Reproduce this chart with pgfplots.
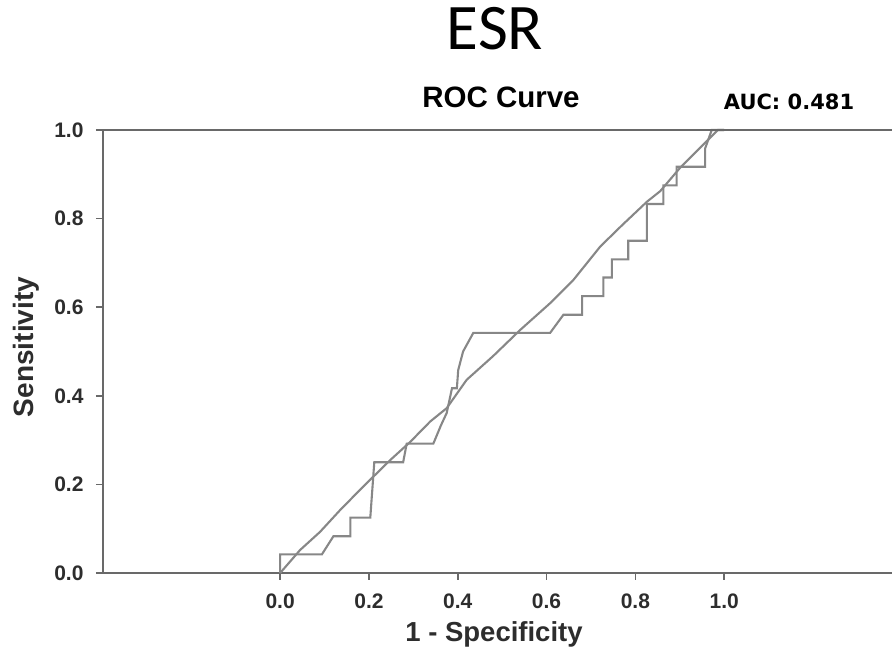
\documentclass[border=0pt]{standalone}
\usepackage{pgfplots}
\pgfplotsset{compat=1.18}
\usepackage{fontspec}
\setmainfont{Liberation Sans}
\newfontfamily\calibri{Carlito}
\newfontfamily\verdana{DejaVu Sans}
\definecolor{curvegray}{RGB}{135,135,135}
\definecolor{axisgray}{RGB}{105,105,105}
\definecolor{labelgray}{RGB}{45,45,45}
\begin{document}
\begin{tikzpicture}[x=1pt,y=1pt]
\useasboundingbox (0,0) rectangle (892,652);

\begin{axis}[
    at={(103pt,79pt)}, anchor=south west,
    scale only axis,
    width=789pt, height=443pt,
    xmin=-0.399, xmax=1.378,
    ymin=0, ymax=1,
    axis x line*=bottom, axis y line*=left,
    axis line style={axisgray, line width=2.6pt, -},
    xtick={0,0.2,0.4,0.6,0.8,1},
    ytick={0,0.2,0.4,0.6,0.8,1},
    tick align=outside,
    major tick length=7pt,
    tick style={axisgray, line width=1.6pt},
    /pgf/number format/.cd, fixed, fixed zerofill, precision=1, assume math mode=true,
    /pgfplots/.cd,
    ticklabel style={font=\bfseries\fontsize{21}{21}\selectfont, text=labelgray},
    xticklabel style={yshift=-10pt},
    yticklabel style={xshift=-9pt},
    clip=false
]

% ROC curve (stepped)
\addplot[curvegray, line width=2.1pt] coordinates {
    (0,0) (0,0.042) (0.094,0.042) (0.120,0.083) (0.158,0.083) (0.158,0.125)
    (0.203,0.125) (0.212,0.250) (0.277,0.250) (0.285,0.292) (0.345,0.292)
    (0.362,0.333) (0.375,0.361) (0.387,0.417) (0.398,0.417) (0.401,0.458)
    (0.412,0.500) (0.435,0.542) (0.608,0.542) (0.638,0.583) (0.680,0.583)
    (0.680,0.625) (0.728,0.625) (0.728,0.667) (0.747,0.667) (0.747,0.708)
    (0.784,0.708) (0.784,0.750) (0.826,0.750) (0.826,0.833) (0.863,0.833)
    (0.863,0.875) (0.893,0.875) (0.893,0.917) (0.957,0.917) (0.957,0.958)
    (0.972,1.000) (1,1)
};

% reference line
\addplot[curvegray, line width=2.1pt] coordinates {
    (0,0) (0.045,0.052) (0.090,0.093) (0.135,0.142) (0.187,0.195)
    (0.248,0.255) (0.293,0.296) (0.338,0.342) (0.375,0.372) (0.420,0.436)
    (0.480,0.490) (0.541,0.549) (0.608,0.609) (0.660,0.661) (0.721,0.737)
    (0.770,0.785) (0.826,0.838) (0.856,0.862) (0.901,0.915) (0.986,1.000) (1,1)
};

% top frame line
\draw[axisgray, line width=2.6pt] (rel axis cs:0,1) -- (rel axis cs:1,1);
\end{axis}

\node[font=\calibri\fontsize{65}{65}\selectfont, anchor=base] at (495,602) {ESR};
\node[font=\bfseries\fontsize{29.5}{30}\selectfont, anchor=base] at (501,544) {ROC Curve};
\node[font=\verdana\bfseries\fontsize{21}{21}\selectfont, anchor=base] at (789,542) {AUC: 0.481};
\node[font=\bfseries\fontsize{27.5}{28}\selectfont, anchor=base, text=labelgray] at (494,10) {1 - Specificity};
\node[font=\bfseries\fontsize{28}{28}\selectfont, anchor=base, rotate=90, text=labelgray] at (33,305) {Sensitivity};
\end{tikzpicture}
\end{document}
